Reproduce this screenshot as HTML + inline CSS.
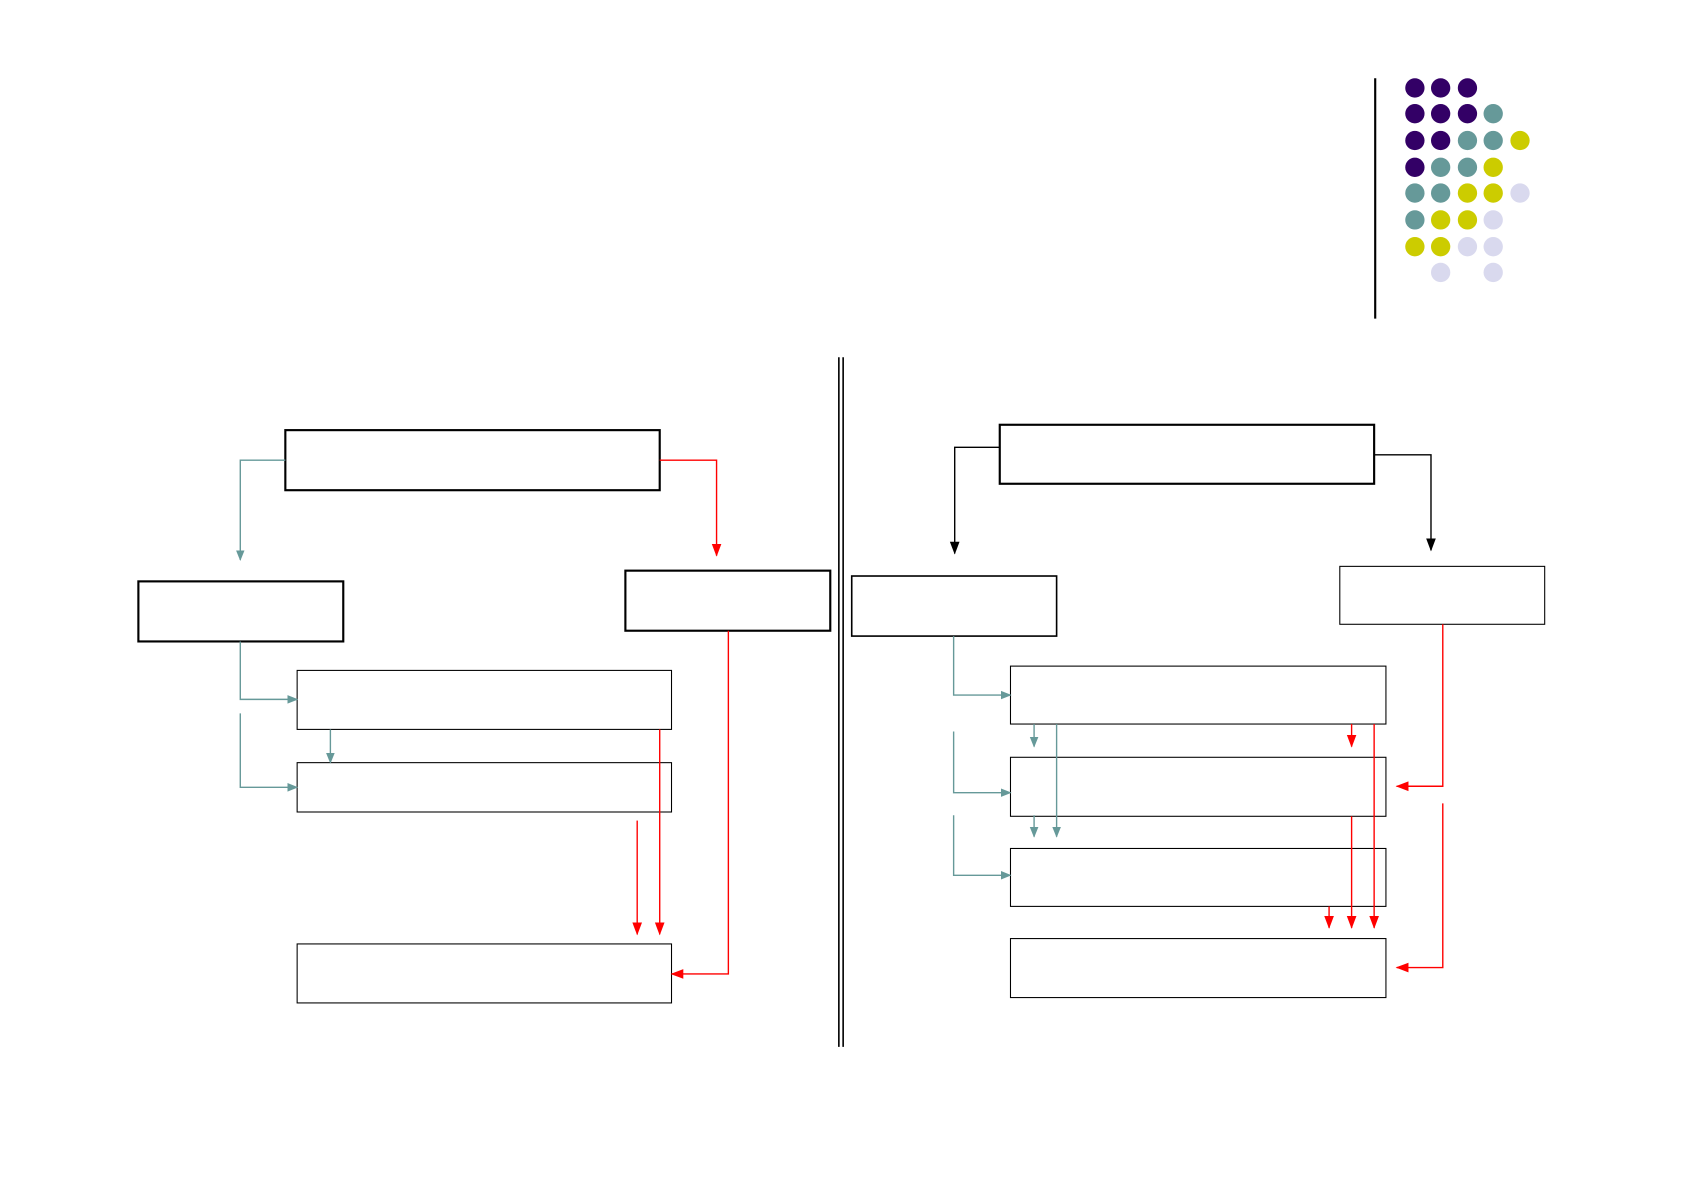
<!DOCTYPE html>
<html><head><meta charset="utf-8"><style>html,body{margin:0;padding:0;background:#fff;}svg{display:block}</style></head>
<body>
<svg width="1682" height="1190" viewBox="0 0 1568 1109.4" preserveAspectRatio="none" xmlns="http://www.w3.org/2000/svg">
<defs>
<marker id="t" markerWidth="10" markerHeight="10" refX="9" refY="5" orient="auto" markerUnits="userSpaceOnUse"><path d="M0,1 L10,5 L0,9 z" fill="#669999"/></marker>
<marker id="r" markerWidth="12" markerHeight="10" refX="11" refY="5" orient="auto" markerUnits="userSpaceOnUse"><path d="M0,0.5 L12,5 L0,9.5 z" fill="#ff0000"/></marker>
<marker id="k" markerWidth="12" markerHeight="10" refX="11" refY="5" orient="auto" markerUnits="userSpaceOnUse"><path d="M0,0.5 L12,5 L0,9.5 z" fill="#000"/></marker>
</defs>
<line x1="1282" y1="73" x2="1282" y2="297" stroke="#000" stroke-width="2"/>
<g>
<circle cx="1319" cy="82" r="9" fill="#330066"/><circle cx="1343" cy="82" r="9" fill="#330066"/><circle cx="1368" cy="82" r="9" fill="#330066"/>
<circle cx="1319" cy="106" r="9" fill="#330066"/><circle cx="1343" cy="106" r="9" fill="#330066"/><circle cx="1368" cy="106" r="9" fill="#330066"/><circle cx="1392" cy="106" r="9" fill="#669999"/>
<circle cx="1319" cy="131" r="9" fill="#330066"/><circle cx="1343" cy="131" r="9" fill="#330066"/><circle cx="1368" cy="131" r="9" fill="#669999"/><circle cx="1392" cy="131" r="9" fill="#669999"/><circle cx="1417" cy="131" r="9" fill="#cccc00"/>
<circle cx="1319" cy="156" r="9" fill="#330066"/><circle cx="1343" cy="156" r="9" fill="#669999"/><circle cx="1368" cy="156" r="9" fill="#669999"/><circle cx="1392" cy="156" r="9" fill="#cccc00"/>
<circle cx="1319" cy="180" r="9" fill="#669999"/><circle cx="1343" cy="180" r="9" fill="#669999"/><circle cx="1368" cy="180" r="9" fill="#cccc00"/><circle cx="1392" cy="180" r="9" fill="#cccc00"/><circle cx="1417" cy="180" r="9" fill="#d9d9ee"/>
<circle cx="1319" cy="205" r="9" fill="#669999"/><circle cx="1343" cy="205" r="9" fill="#cccc00"/><circle cx="1368" cy="205" r="9" fill="#cccc00"/><circle cx="1392" cy="205" r="9" fill="#d9d9ee"/>
<circle cx="1319" cy="230" r="9" fill="#cccc00"/><circle cx="1343" cy="230" r="9" fill="#cccc00"/><circle cx="1368" cy="230" r="9" fill="#d9d9ee"/><circle cx="1392" cy="230" r="9" fill="#d9d9ee"/>
<circle cx="1343" cy="254" r="9" fill="#d9d9ee"/><circle cx="1392" cy="254" r="9" fill="#d9d9ee"/>
</g>
<line x1="782" y1="333" x2="782" y2="976" stroke="#000" stroke-width="1.5"/>
<line x1="786" y1="333" x2="786" y2="976" stroke="#000" stroke-width="1.5"/>
<g fill="none" stroke="#000">
<rect x="266" y="401" width="349" height="56" stroke-width="2"/>
<rect x="129" y="542" width="191" height="56" stroke-width="2"/>
<rect x="583" y="532" width="191" height="56" stroke-width="2"/>
<rect x="277" y="625" width="349" height="55" stroke-width="1"/>
<rect x="277" y="711" width="349" height="46" stroke-width="1"/>
<rect x="277" y="880" width="349" height="55" stroke-width="1"/>
<rect x="932" y="396" width="349" height="55" stroke-width="2"/>
<rect x="794" y="537" width="191" height="56" stroke-width="1.5"/>
<rect x="1249" y="528" width="191" height="54" stroke-width="1"/>
<rect x="942" y="621" width="350" height="54" stroke-width="1"/>
<rect x="942" y="706" width="350" height="55" stroke-width="1"/>
<rect x="942" y="791" width="350" height="54" stroke-width="1"/>
<rect x="942" y="875" width="350" height="55" stroke-width="1"/>
</g>
<g fill="none" stroke="#669999" stroke-width="1.3">
<polyline points="266,429 224,429 224,522" marker-end="url(#t)"/>
<polyline points="224,598 224,652 277,652" marker-end="url(#t)"/>
<polyline points="224,665 224,734 277,734" marker-end="url(#t)"/>
<polyline points="308,680 308,711" marker-end="url(#t)"/>
<polyline points="889,593 889,648 942,648" marker-end="url(#t)"/>
<polyline points="889,682 889,739 942,739" marker-end="url(#t)"/>
<polyline points="889,760 889,816 942,816" marker-end="url(#t)"/>
<polyline points="964,675 964,696" marker-end="url(#t)"/>
<polyline points="985,675 985,780" marker-end="url(#t)"/>
<polyline points="964,760 964,780" marker-end="url(#t)"/>
</g>
<g fill="none" stroke="#ff0000" stroke-width="1.3">
<polyline points="615,429 668,429 668,518" marker-end="url(#r)"/>
<polyline points="615,680 615,871" marker-end="url(#r)"/>
<polyline points="594,765 594,871" marker-end="url(#r)"/>
<polyline points="679,588 679,908 626,908" marker-end="url(#r)"/>
<polyline points="1260,675 1260,696" marker-end="url(#r)"/>
<polyline points="1281,675 1281,865" marker-end="url(#r)"/>
<polyline points="1260,761 1260,865" marker-end="url(#r)"/>
<polyline points="1239,845 1239,865" marker-end="url(#r)"/>
<polyline points="1345,582 1345,733 1302,733" marker-end="url(#r)"/>
<polyline points="1345,749 1345,902 1302,902" marker-end="url(#r)"/>
</g>
<g fill="none" stroke="#000" stroke-width="1.3">
<polyline points="932,417 890,417 890,516" marker-end="url(#k)"/>
<polyline points="1281,424 1334,424 1334,513" marker-end="url(#k)"/>
</g>
</svg>
</body></html>
